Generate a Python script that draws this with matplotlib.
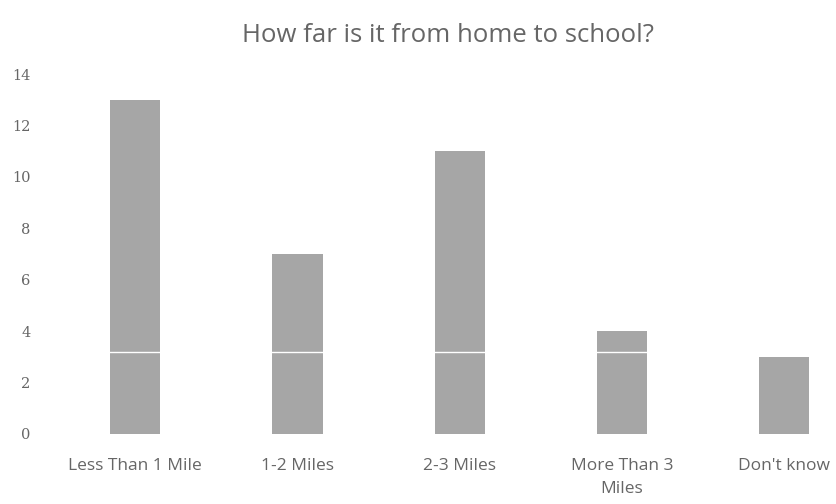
import matplotlib
matplotlib.use('Agg')
import matplotlib.pyplot as plt
import numpy as np

# datos
categorias = ['Less Than 1 Mile', '1-2 Miles', '2-3 Miles', 'More Than 3\nMiles', "Don't know"]
valores = [13, 7, 11, 4, 3]
marcas_y = [0, 2, 4, 6, 8, 10, 12, 14]
titulo = 'How far is it from home to school?'
linea_blanca = 3.2  # la raya blanca que cruza las barras

fig = plt.figure(figsize=(8.37, 5.04), dpi=100)
# el area del grafico se sale un poco por la derecha, como en la imagen
ax = fig.add_axes([0.0645, 0.139, 0.9695, 0.714])

x = np.arange(len(categorias))
ax.bar(x, valores, width=0.31, color='#a6a6a6', zorder=2)
ax.axhline(linea_blanca, color='white', lw=1.0, zorder=3)

ax.set_xlim(-0.5, len(categorias) - 0.5)
ax.set_ylim(0, 14)
ax.set_yticks(marcas_y)
ax.set_yticklabels([str(v) for v in marcas_y], family='DejaVu Serif',
                   fontsize=10.5, color='#666666')
ax.set_xticks(x)
ax.set_xticklabels(categorias, family='Open Sans', fontsize=12.5,
                   color='#666666', linespacing=1.6)
ax.tick_params(axis='both', length=0)
ax.tick_params(axis='y', pad=17)
ax.tick_params(axis='x', pad=17)

for s in ax.spines.values():
    s.set_visible(False)

fig.text(0.535, 0.93, titulo, ha='center', va='center',
         family='Open Sans', fontsize=18.5, color='#666666')

plt.savefig('out.png', dpi=100)
